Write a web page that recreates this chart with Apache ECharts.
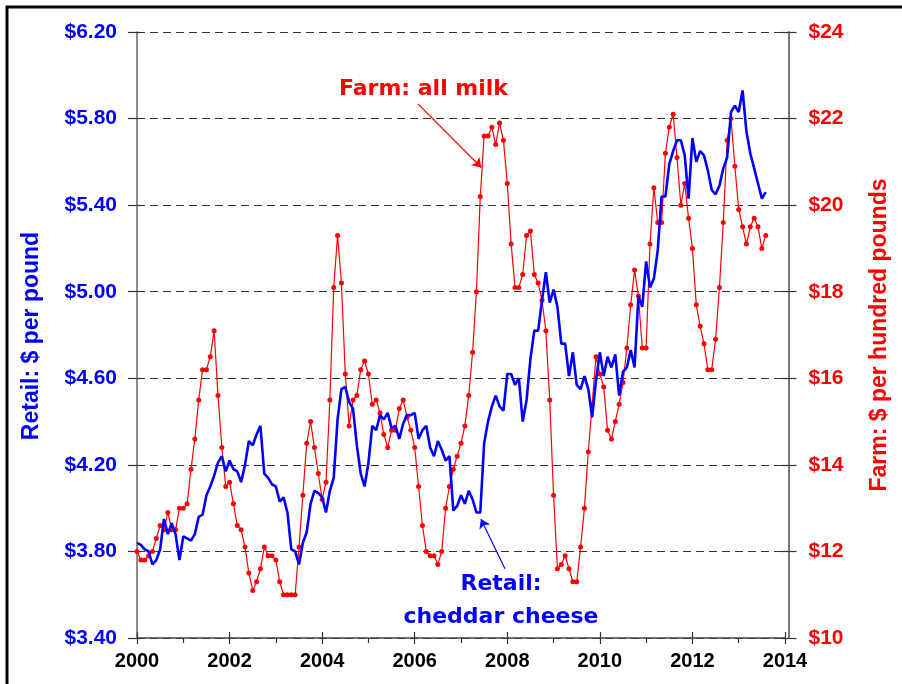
<!DOCTYPE html>
<html>
<head>
<meta charset="utf-8">
<title>Retail cheddar cheese vs farm milk price</title>
<script src="https://cdn.jsdelivr.net/npm/echarts@6/dist/echarts.min.js"></script>
<style>
  html, body { margin: 0; padding: 0; background: #fff; }
  #chart { width: 902px; height: 684px; }
</style>
</head>
<body>
<div id="chart"></div>
<script>
// monthly series, first value = January 2000
var firstYear = 2000;

// Retail: cheddar cheese, $ per pound
var retail = [
  3.84, 3.83, 3.81, 3.80, 3.74, 3.76, 3.81, 3.95, 3.88, 3.93, 3.88, 3.76,
  3.87, 3.86, 3.85, 3.88, 3.96, 3.97, 4.06, 4.10, 4.15, 4.21, 4.24, 4.17,
  4.22, 4.18, 4.17, 4.12, 4.20, 4.31, 4.29, 4.34, 4.38, 4.16, 4.14, 4.11,
  4.10, 4.03, 4.05, 3.98, 3.81, 3.80, 3.74, 3.84, 3.89, 4.02, 4.08, 4.07,
  4.05, 3.98, 4.08, 4.14, 4.41, 4.55, 4.56, 4.49, 4.46, 4.29, 4.16, 4.10,
  4.21, 4.38, 4.36, 4.43, 4.41, 4.44, 4.37, 4.38, 4.32, 4.39, 4.43, 4.43,
  4.44, 4.32, 4.36, 4.38, 4.28, 4.24, 4.31, 4.27, 4.22, 4.24, 3.99, 4.01,
  4.06, 4.02, 4.08, 4.04, 3.98, 3.98, 4.30, 4.40, 4.47, 4.52, 4.47, 4.45,
  4.62, 4.62, 4.57, 4.60, 4.40, 4.50, 4.69, 4.82, 4.82, 4.96, 5.09, 4.95,
  5.01, 4.93, 4.76, 4.76, 4.61, 4.72, 4.57, 4.55, 4.61, 4.55, 4.42, 4.59,
  4.72, 4.61, 4.70, 4.65, 4.71, 4.52, 4.63, 4.65, 4.73, 4.65, 4.98, 4.93,
  5.14, 5.02, 5.06, 5.19, 5.44, 5.44, 5.59, 5.65, 5.70, 5.70, 5.63, 5.43,
  5.71, 5.60, 5.65, 5.63, 5.56, 5.47, 5.45, 5.49, 5.57, 5.62, 5.83, 5.86,
  5.83, 5.93, 5.74, 5.64, 5.57, 5.50, 5.43, 5.46
];

// Farm: all milk, $ per hundred pounds
var farm = [
  12.0, 11.8, 11.8, 11.9, 12.0, 12.3, 12.6, 12.5, 12.9, 12.5, 12.5, 13.0,
  13.0, 13.1, 13.9, 14.6, 15.5, 16.2, 16.2, 16.5, 17.1, 15.6, 14.4, 13.5,
  13.6, 13.1, 12.6, 12.5, 12.1, 11.5, 11.1, 11.3, 11.6, 12.1, 11.9, 11.9,
  11.8, 11.3, 11.0, 11.0, 11.0, 11.0, 12.1, 13.3, 14.5, 15.0, 14.4, 13.8,
  13.2, 13.6, 15.5, 18.1, 19.3, 18.2, 16.1, 14.9, 15.5, 15.6, 16.2, 16.4,
  16.1, 15.4, 15.5, 15.2, 14.7, 14.4, 14.8, 14.8, 15.3, 15.5, 15.1, 14.8,
  14.4, 13.5, 12.6, 12.0, 11.9, 11.9, 11.7, 12.0, 13.0, 13.5, 13.9, 14.2,
  14.5, 14.9, 15.6, 16.6, 18.0, 20.2, 21.6, 21.6, 21.8, 21.4, 21.9, 21.5,
  20.5, 19.1, 18.1, 18.1, 18.4, 19.3, 19.4, 18.4, 18.2, 17.8, 17.1, 15.5,
  13.3, 11.6, 11.7, 11.9, 11.6, 11.3, 11.3, 12.1, 13.0, 14.3, 15.4, 16.5,
  16.1, 15.8, 14.8, 14.6, 15.0, 15.4, 15.9, 16.7, 17.7, 18.5, 17.9, 16.7,
  16.7, 19.1, 20.4, 19.6, 19.6, 21.2, 21.8, 22.1, 21.1, 20.0, 20.5, 19.7,
  19.0, 17.7, 17.2, 16.8, 16.2, 16.2, 16.9, 18.1, 19.6, 21.5, 22.0, 20.9,
  19.9, 19.5, 19.1, 19.5, 19.7, 19.5, 19.0, 19.3
];

// tick values
var yearTicks = [2000, 2002, 2004, 2006, 2008, 2010, 2012, 2014];
var retailTicks = [3.4, 3.8, 4.2, 4.6, 5.0, 5.4, 5.8, 6.2];
var farmTicks = [10, 12, 14, 16, 18, 20, 22, 24];

// annotation arrows, data coordinates [start, tip]
var farmArrow = [[2006.07, 22.34], [2007.44, 20.87]];
var retailArrow = [[2007.95, 3.72], [2007.43, 3.95]];

function toPairs(arr) {
  var out = [];
  for (var i = 0; i < arr.length; i++) {
    out.push([firstYear + i / 12, arr[i]]);
  }
  return out;
}

var BLUE = '#0000ff';
var RED = '#ff0000';
var ARIAL = '"Liberation Sans", Arial, sans-serif';
var WIDE = '"DejaVu Sans", Verdana, sans-serif';

var myChart = echarts.init(document.getElementById('chart'));

function helperY(pos, inside, len) {
  return {
    type: 'value', position: pos, offset: pos === 'right' ? 3.5 : 0,
    min: farmTicks[0], max: farmTicks[farmTicks.length - 1], interval: 2,
    axisLine: { show: false },
    axisTick: { show: true, inside: inside, length: len, lineStyle: { color: '#333', width: 1.2 } },
    axisLabel: { show: false },
    splitLine: { show: false }
  };
}

var option = {
  animation: false,
  backgroundColor: '#fff',
  grid: { left: 137, right: 117, top: 32, bottom: 46, outerBoundsMode: 'none' },
  xAxis: [
    {
      type: 'value', min: yearTicks[0], max: yearTicks[yearTicks.length - 1], interval: 2,
      axisLine: { show: true, lineStyle: { color: '#444', width: 1.5 } },
      axisTick: { show: true, length: 6, lineStyle: { color: '#333', width: 1.2 } },
      minorTick: { show: true, splitNumber: 2, length: 5, lineStyle: { color: '#333', width: 1.2 } },
      axisLabel: {
        margin: 13, color: '#000', fontFamily: ARIAL, fontWeight: 'bold', fontSize: 20,
        formatter: function (v) { return yearTicks.indexOf(v) >= 0 ? String(v) : ''; }
      },
      splitLine: { show: false }
    },
    {
      type: 'value', position: 'bottom', min: yearTicks[0], max: yearTicks[yearTicks.length - 1], interval: 2,
      axisLine: { show: false },
      axisTick: { show: true, inside: true, length: 6, lineStyle: { color: '#333', width: 1.2 } },
      axisLabel: { show: false },
      splitLine: { show: false }
    }
  ],
  yAxis: [
    {
      type: 'value', position: 'left', min: 3.4, max: 6.2, interval: 0.2,
      axisLine: { show: true, lineStyle: { color: '#666', width: 1.5 } },
      axisTick: { show: false },
      splitLine: { show: false },
      axisLabel: {
        margin: 20, color: BLUE, fontFamily: ARIAL, fontWeight: 'bold', fontSize: 21,
        formatter: function (v) {
          for (var i = 0; i < retailTicks.length; i++) {
            if (Math.abs(retailTicks[i] - v) < 1e-6) return '$' + v.toFixed(2);
          }
          return '';
        }
      }
    },
    {
      type: 'value', position: 'right', offset: 3.5,
      min: farmTicks[0], max: farmTicks[farmTicks.length - 1], interval: 2,
      axisLine: { show: true, lineStyle: { color: '#777', width: 2 } },
      axisTick: { show: true, length: 8, lineStyle: { color: '#333', width: 1.2 } },
      splitLine: { show: true, lineStyle: { color: '#333', width: 1.2, type: [8, 5] } },
      axisLabel: {
        margin: 20, color: RED, fontFamily: ARIAL, fontWeight: 'bold', fontSize: 21,
        formatter: function (v) { return '$' + v; }
      }
    },
    helperY('left', false, 9),
    helperY('left', true, 4),
    helperY('right', true, 7)
  ],
  series: [
    {
      name: 'Farm: all milk', type: 'line', yAxisIndex: 1,
      data: toPairs(farm),
      symbol: 'circle', symbolSize: 5, showSymbol: true,
      lineStyle: { color: RED, width: 1.2 },
      itemStyle: { color: RED },
      z: 2, silent: true,
      markLine: {
        silent: true, symbol: ['none', 'arrow'], symbolSize: 9,
        label: { show: false },
        lineStyle: { color: RED, width: 1.2, type: 'solid' },
        data: [[{ coord: farmArrow[0] }, { coord: farmArrow[1] }]]
      }
    },
    {
      name: 'Retail: cheddar cheese', type: 'line', yAxisIndex: 0,
      data: toPairs(retail),
      symbol: 'none',
      lineStyle: { color: BLUE, width: 2.6 },
      z: 3, silent: true,
      markLine: {
        silent: true, symbol: ['none', 'arrow'], symbolSize: 9,
        label: { show: false },
        lineStyle: { color: BLUE, width: 1.2, type: 'solid' },
        data: [[{ coord: retailArrow[0] }, { coord: retailArrow[1] }]]
      }
    }
  ],
  graphic: [
    {
      type: 'rect', silent: true, z: 100,
      shape: { x: 7, y: 7, width: 960, height: 760 },
      style: { fill: 'none', stroke: '#000', lineWidth: 3 }
    },
    {
      type: 'text', x: 32, y: 336, rotation: Math.PI / 2, silent: true,
      style: { text: 'Retail: $ per pound', fill: BLUE, font: 'bold 23px ' + ARIAL, align: 'center', verticalAlign: 'middle' }
    },
    {
      type: 'text', x: 880, y: 335, rotation: Math.PI / 2, silent: true,
      style: { text: 'Farm: $ per hundred pounds', fill: RED, font: 'bold 23px ' + ARIAL, align: 'center', verticalAlign: 'middle' }
    },
    {
      type: 'text', x: 508, y: 89, silent: true,
      style: { text: 'Farm: all milk', fill: RED, font: 'bold 22px ' + WIDE, align: 'right', verticalAlign: 'middle' }
    },
    {
      type: 'text', x: 501, y: 584, silent: true,
      style: { text: 'Retail:', fill: BLUE, font: 'bold 22px ' + WIDE, align: 'center', verticalAlign: 'middle' }
    },
    {
      type: 'text', x: 501, y: 617, silent: true,
      style: { text: 'cheddar cheese', fill: BLUE, font: 'bold 22px ' + WIDE, align: 'center', verticalAlign: 'middle' }
    }
  ]
};

myChart.setOption(option);
</script>
</body>
</html>
